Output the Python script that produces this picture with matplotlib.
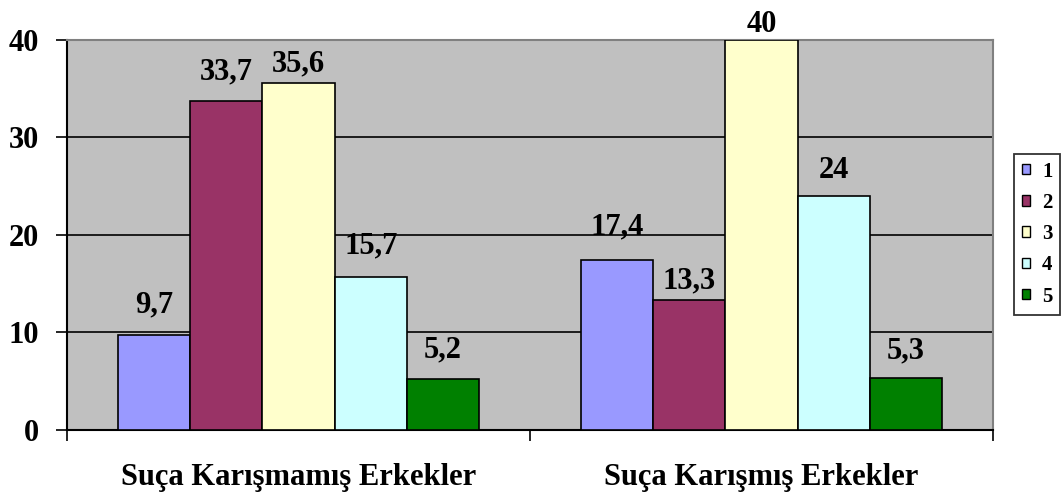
import numpy as np
import matplotlib.pyplot as plt
from matplotlib.patches import Patch

# Veriler
categories = ['Suça Karışmamış Erkekler', 'Suça Karışmış Erkekler']
series_names = ['1', '2', '3', '4', '5']
values = [
    [9.7, 17.4],
    [33.7, 13.3],
    [35.6, 40],
    [15.7, 24],
    [5.2, 5.3],
]
value_labels = [
    ['9,7', '17,4'],
    ['33,7', '13,3'],
    ['35,6', '40'],
    ['15,7', '24'],
    ['5,2', '5,3'],
]
colors = ['#9999FF', '#993366', '#FFFFCC', '#CCFFFF', '#008000']

# etiketlerin çubuk üstünden uzaklığı (punto)
label_offsets = [
    [16.5, 19],
    [16, 8.5],
    [8, 6],
    [17, 13],
    [16, 14],
]

plt.rcParams['font.family'] = ['Liberation Serif', 'DejaVu Serif']
plt.rcParams['font.weight'] = 'bold'

fig = plt.figure(figsize=(10.62, 4.96), dpi=100)
ax = fig.add_axes([0.0631, 0.1331, 0.935 - 0.0631, 0.9194 - 0.1331])
ax.set_facecolor('#C0C0C0')

x = np.arange(len(categories))
width = 0.156
for i, (vals, labs) in enumerate(zip(values, value_labels)):
    pos = x + (i - 2) * width
    ax.bar(pos, vals, width, color=colors[i], edgecolor='black', linewidth=1.2, zorder=3)
    for j, (p, v, t) in enumerate(zip(pos, vals, labs)):
        ax.annotate(t, (p, v), xytext=(0, label_offsets[i][j]), textcoords='offset points',
                    ha='center', va='baseline', fontsize=22, fontweight='bold',
                    annotation_clip=False)

ax.set_xlim(-0.5, 1.5)
ax.set_ylim(0, 40)
ax.set_yticks([0, 10, 20, 30, 40])
ax.yaxis.grid(True, color='black', linewidth=1.2, zorder=1)
ax.set_axisbelow(True)
ax.tick_params(axis='y', direction='out', length=8, width=1.2, labelsize=22, pad=12)

ax.set_xticks([-0.5, 0.5, 1.5])
ax.set_xticklabels([])
ax.set_xticks(x, minor=True)
ax.set_xticklabels(categories, minor=True, fontsize=22, fontweight='bold')
ax.tick_params(axis='x', which='major', direction='out', length=8, width=1.2)
ax.tick_params(axis='x', which='minor', length=0, pad=24)

for s in ['top', 'right']:
    ax.spines[s].set_color('#808080')
    ax.spines[s].set_linewidth(1.5)
for s in ['left', 'bottom']:
    ax.spines[s].set_color('black')
    ax.spines[s].set_linewidth(1.5)

handles = [Patch(facecolor=c, edgecolor='black', label=n) for c, n in zip(colors, series_names)]
leg = fig.legend(handles=handles, loc='center left', bbox_to_anchor=(0.955, 0.528),
                 frameon=True, fancybox=False, edgecolor='black', fontsize=15,
                 handlelength=0.4, handleheight=0.4, handletextpad=0.55,
                 labelspacing=0.54, borderpad=0.38, borderaxespad=0)
leg.get_frame().set_linewidth(1.3)

fig.savefig('out.png', dpi=100)
